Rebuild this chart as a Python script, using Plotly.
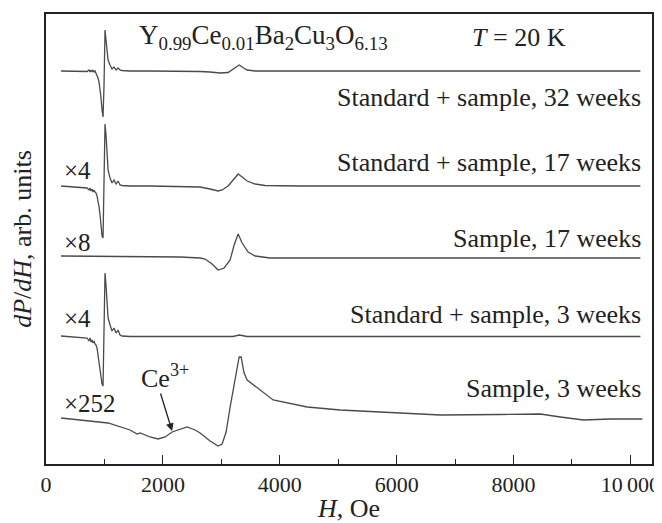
import plotly.graph_objects as go

# ---- data (H in Oe, signal in arb. units relative to each trace's baseline) ----
H1 = [257, 582, 702, 736, 753, 771, 788, 805, 822, 839, 856, 873, 890, 908, 925, 942, 959, 976, 993, 1010,
      1027, 1045, 1062, 1096, 1130, 1164, 1199, 1233, 1267, 1301, 1438, 1781, 2295, 2637, 2808, 2979, 3116,
      3202, 3271, 3305, 3356, 3442, 3579, 4349, 6062, 7774, 9486, 10171]
S1 = [0, 0, -0.5, 1, -1, 1, -1, 1, -1, 0, -2, -4, -7, -11, -17, -27, -39, -46, -14, 41,
      31, 16, 11, 6, 2, 4, 1, 3, 1, 0.5, 0, 0, 0, -0.5, -1, -2, -1.5,
      2, 5, 6, 4, 1, 0, 0, 0, 0, 0, 0]

H2 = [257, 582, 702, 736, 753, 771, 788, 805, 822, 839, 856, 873, 890, 908, 925, 942, 959, 976, 993, 1010,
      1027, 1045, 1062, 1096, 1130, 1164, 1199, 1233, 1267, 1301, 1438, 1781, 2295, 2637, 2808, 2945, 3014,
      3116, 3202, 3288, 3356, 3442, 3579, 3750, 4349, 6062, 10171]
S2 = [0, -1, -2, -4, -2, -5, -3, -6, -4, -6, -7, -10, -14, -21, -29, -40, -50, -52, -4, 62,
      51, 28, 16, 8, 3, 6, 2, 5, 1, 0.5, 0, 0, -0.5, -1, -3, -5, -4,
      0, 6, 12, 9, 5, 2, 0.5, 0, 0, 0]

H3 = [257, 1438, 2295, 2637, 2723, 2842, 2945, 3048, 3151, 3219, 3288, 3356, 3459, 3579, 3836, 6062, 10171]
S3 = [1, 0.5, 0, -1, -2, -7, -13, -11, -3, 12, 23, 14, 5, 1, -1, -1, -1]

H4 = [257, 582, 702, 736, 753, 771, 788, 805, 822, 839, 856, 873, 890, 908, 925, 942, 959, 976, 993, 1010,
      1027, 1045, 1062, 1096, 1130, 1164, 1199, 1233, 1267, 1301, 1438, 3202, 3305, 3442, 10171]
S4 = [0, -1, -2, -5, -2, -6, -4, -7, -5, -8, -9, -12, -20, -26, -34, -42, -48, -50, 6, 63,
      51, 31, 18, 11, 5, 8, 3, 6, 1, 0, -0.5, -0.5, 1, -0.5, -0.5]

H5 = [257, 582, 1062, 1438, 1558, 1610, 1695, 1781, 1918, 2038, 2158, 2295, 2414, 2551, 2637, 2808, 2945, 3014,
      3082, 3151, 3219, 3271, 3305, 3339, 3390, 3442, 3613, 3887, 4469, 5034, 6062, 6747, 7774, 8116, 8459,
      8801, 9195, 9658, 10205]
S5 = [0, -2, -5, -12, -16, -15, -17, -19, -21, -19, -14, -11, -9, -12, -15, -23, -28, -26,
      -14, 11, 33, 54, 61, 61, 45, 38, 30, 18, 11, 8, 5, 3, 3.5, 4, 4,
      1, -2, -1, -1]

series_H = [H1, H2, H3, H4, H5]
series_S = [S1, S2, S3, S4, S5]
offsets = [393, 278, 207, 128, 46]

labels = ["Standard + sample, 32 weeks", "Standard + sample, 17 weeks", "Sample, 17 weeks",
          "Standard + sample, 3 weeks", "Sample, 3 weeks"]
label_y = [367, 302, 226, 150, 76]
factors = ["", "\u00d74", "\u00d78", "\u00d74", "\u00d7252"]
factor_y = [0, 294, 222, 146, 61]

x_ticks = [0, 2000, 4000, 6000, 8000, 10000]
x_tick_text = ["0", "2000", "4000", "6000", "8000", "10\u2009000"]

FONT = "Liberation Serif"
FS = 26
TXT = "#222"

fig = go.Figure()
for h, s, off in zip(series_H, series_S, offsets):
    fig.add_trace(go.Scatter(x=h, y=[v + off for v in s], mode="lines",
                             line=dict(color="#4a4a4a", width=1.3), showlegend=False,
                             hoverinfo="skip"))

ann = []
for lab, ly in zip(labels, label_y):
    ann.append(dict(x=10223, y=ly, text=lab, showarrow=False, xanchor="right", yanchor="middle",
                    font=dict(family=FONT, size=FS, color=TXT)))
for f, fy in zip(factors, factor_y):
    if f:
        ann.append(dict(x=274, y=fy, text=f, showarrow=False, xanchor="left", yanchor="middle",
                        font=dict(family=FONT, size=25, color=TXT)))

ann.append(dict(x=1558, y=427, text="Y<sub>0.99</sub>Ce<sub>0.01</sub>Ba<sub>2</sub>Cu<sub>3</sub>O<sub>6.13</sub>",
                showarrow=False, xanchor="left", yanchor="middle",
                font=dict(family=FONT, size=27, color=TXT)))
ann.append(dict(x=7260, y=427, text="<i>T</i> = 20 K", showarrow=False, xanchor="left", yanchor="middle",
                font=dict(family=FONT, size=FS, color=TXT)))
ann.append(dict(x=2038, y=88, text="Ce<sup>3+</sup>", showarrow=False, xanchor="center", yanchor="middle",
                font=dict(family=FONT, size=FS, color=TXT)))
ann.append(dict(x=2158, y=33, ax=1952, ay=72, xref="x", yref="y", axref="x", ayref="y",
                text="", showarrow=True, arrowhead=2, arrowsize=1.2, arrowwidth=1.3, arrowcolor=TXT))

# page body has an 8 px default margin, so the figure is drawn at (8, 8)
fig.update_layout(
    width=654, height=515,
    margin=dict(l=38, r=10, t=6, b=59, autoexpand=False),
    paper_bgcolor="white", plot_bgcolor="white",
    annotations=ann,
    font=dict(family=FONT, size=FS, color=TXT),
    xaxis=dict(range=[0, 10370], tickvals=x_ticks, ticktext=x_tick_text, automargin=False,
               ticks="inside", ticklen=9, tickwidth=1.3, tickcolor=TXT,
               minor=dict(dtick=1000, tick0=0, ticks="inside", ticklen=5, tickwidth=1.2, tickcolor=TXT),
               showline=True, linecolor=TXT, linewidth=2, mirror=True,
               showgrid=False, zeroline=False,
               tickfont=dict(family=FONT, size=22, color=TXT),
               title=dict(text="<i>H</i>, Oe", font=dict(family=FONT, size=FS, color=TXT), standoff=2)),
    yaxis=dict(range=[0, 450], showticklabels=False, ticks="", automargin=False,
               showline=True, linecolor=TXT, linewidth=2, mirror=True,
               showgrid=False, zeroline=False,
               title=dict(text="<i>dP</i>/<i>dH</i>, arb. units", font=dict(family=FONT, size=FS, color=TXT),
                          standoff=8)),
)

fig.write_html("out.html")
